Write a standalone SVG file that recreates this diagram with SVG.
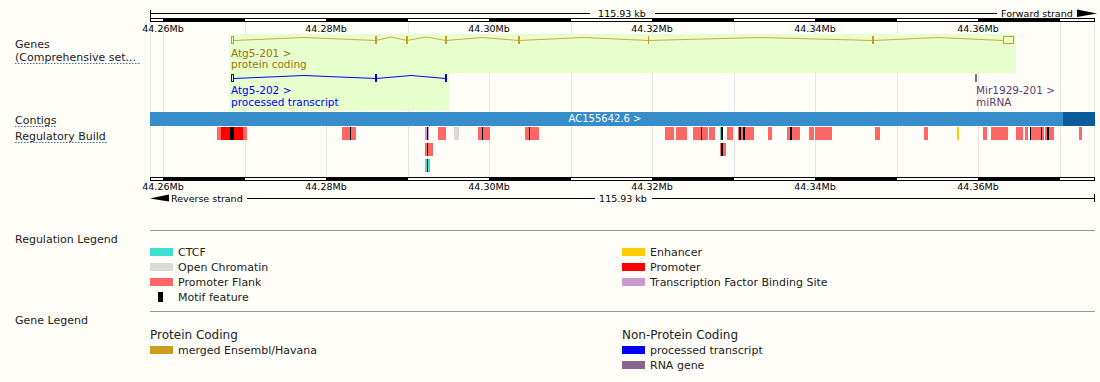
<svg xmlns="http://www.w3.org/2000/svg" width="1100" height="382" viewBox="0 0 1100 382">
<defs>
<style>
text{font-family:"DejaVu Sans","Liberation Sans",sans-serif;fill:#222}
.rl{font-size:9.5px;fill:#000}
.tl{font-size:11px}
.ul{stroke:#3b6ea5;stroke-width:1;stroke-dasharray:1.5 1.5}
.grid{stroke:#e2e2e2;stroke-width:1}
.blk{fill:#000}
.pf{fill:#ff6666}
.pr{fill:#ff0000}
.ct{fill:#40e0d0}
.oc{fill:#d9d9d9}
.tf{fill:#cc99cc}
.en{fill:#ffcc00}
.mo{fill:#000}
.lg{font-size:11px}
.lh{font-size:11px}
.sh{font-size:12px}
.sep{stroke:#999;stroke-width:1}
.gold{stroke:#cd9b1d}
.glab{font-size:10.5px;fill:#a3700a}
.blab{font-size:10.5px;fill:#0000ff}
.plab{font-size:10.5px;fill:#5e3b6e}
</style>
</defs>
<rect x="0" y="0" width="1100" height="382" fill="#fffdf8"/>

<g id="gridlines">
<line class="grid" x1="150.5" y1="22" x2="150.5" y2="177"/>
<line class="grid" x1="163.5" y1="22" x2="163.5" y2="177"/>
<line class="grid" x1="245.5" y1="22" x2="245.5" y2="177"/>
<line class="grid" x1="326.5" y1="22" x2="326.5" y2="177"/>
<line class="grid" x1="408.5" y1="22" x2="408.5" y2="177"/>
<line class="grid" x1="489.5" y1="22" x2="489.5" y2="177"/>
<line class="grid" x1="571.5" y1="22" x2="571.5" y2="177"/>
<line class="grid" x1="652.5" y1="22" x2="652.5" y2="177"/>
<line class="grid" x1="734.5" y1="22" x2="734.5" y2="177"/>
<line class="grid" x1="815.5" y1="22" x2="815.5" y2="177"/>
<line class="grid" x1="897.5" y1="22" x2="897.5" y2="177"/>
<line class="grid" x1="978.5" y1="22" x2="978.5" y2="177"/>
<line class="grid" x1="1060.5" y1="22" x2="1060.5" y2="177"/>
<line class="grid" x1="1094.5" y1="22" x2="1094.5" y2="177"/>
</g>

<g id="ruler-top">
<line x1="150" y1="13.5" x2="590" y2="13.5" stroke="#000"/>
<line x1="655" y1="13.5" x2="997" y2="13.5" stroke="#000"/>
<line x1="150.5" y1="10" x2="150.5" y2="18" stroke="#000"/>
<text class="rl" x="622" y="17" text-anchor="middle">115.93 kb</text>
<text class="rl" x="1001" y="17">Forward strand</text>
<polygon points="1077,9.5 1097,13.5 1077,17" fill="#000"/>
<rect x="150.5" y="18.5" width="944" height="3" fill="#fff" stroke="#000"/>
<rect class="blk" x="163" y="18" width="82" height="4"/>
<rect class="blk" x="326" y="18" width="82" height="4"/>
<rect class="blk" x="489" y="18" width="82" height="4"/>
<rect class="blk" x="652" y="18" width="82" height="4"/>
<rect class="blk" x="815" y="18" width="82" height="4"/>
<rect class="blk" x="978" y="18" width="82" height="4"/>
<text class="rl" x="163" y="32" text-anchor="middle">44.26Mb</text>
<text class="rl" x="326" y="32" text-anchor="middle">44.28Mb</text>
<text class="rl" x="489" y="32" text-anchor="middle">44.30Mb</text>
<text class="rl" x="652" y="32" text-anchor="middle">44.32Mb</text>
<text class="rl" x="815" y="32" text-anchor="middle">44.34Mb</text>
<text class="rl" x="978" y="32" text-anchor="middle">44.36Mb</text>
</g>

<g id="track-labels">
<text class="tl" x="15" y="48">Genes</text>
<text class="tl" x="15" y="61">(Comprehensive set...</text>
<line class="ul" x1="15" y1="63.5" x2="141" y2="63.5"/>
<text class="tl" x="15" y="124">Contigs</text>
<line class="ul" x1="15" y1="126.5" x2="57" y2="126.5"/>
<text class="tl" x="15" y="140">Regulatory Build</text>
<line class="ul" x1="15" y1="142.5" x2="108" y2="142.5"/>
</g>

<g id="gene-atg5-201">
<rect x="229" y="34" width="787" height="39" fill="#e6ffcc"/>
<polyline fill="none" stroke="#d6a638" stroke-width="1" points="234,40.5 304,37.5 376,40.5 391,37 407,40.5 426,37 446,40.5 482,37.5 519,40.5 583,37.5 648,40.5 760,37.5 873,40.5 938,37.5 1003,40.5"/>
<rect x="231.5" y="36.5" width="2" height="7" fill="none" stroke="#cd9b1d"/>
<rect x="375" y="36" width="2" height="8" fill="#cd9b1d"/>
<rect x="406" y="36" width="2" height="8" fill="#cd9b1d"/>
<rect x="445" y="36" width="2" height="8" fill="#cd9b1d"/>
<rect x="518" y="36" width="2" height="8" fill="#cd9b1d"/>
<rect x="648" y="36" width="1" height="8" fill="#cd9b1d"/>
<rect x="872" y="36" width="2" height="8" fill="#cd9b1d"/>
<rect x="1003.5" y="36.5" width="10" height="7" fill="none" stroke="#cd9b1d"/>
<text class="glab" x="231" y="57">Atg5-201 &gt;</text>
<text class="glab" x="231" y="68">protein coding</text>
</g>

<g id="gene-atg5-202">
<rect x="229" y="73" width="220" height="38" fill="#e6ffcc"/>
<polyline fill="none" stroke="#0000ff" stroke-width="1" points="234,78.5 304,75.5 376,78.5 411,75.5 446,78.5"/>
<rect x="231.5" y="74.5" width="2" height="7" fill="none" stroke="#0000ff"/>
<rect x="375" y="74" width="2" height="8" fill="#0000ff"/>
<rect x="445" y="74" width="2" height="8" fill="#0000ff"/>
<text class="blab" x="231" y="94">Atg5-202 &gt;</text>
<text class="blab" x="231" y="106">processed transcript</text>
</g>

<g id="gene-mir1929-201">
<rect x="975" y="74" width="2" height="8" fill="#8b668b"/>
<text class="plab" x="976" y="94">Mir1929-201 &gt;</text>
<text class="plab" x="976" y="106">miRNA</text>
</g>

<g id="contig">
<rect x="150" y="112" width="913" height="14" fill="#368dc9"/>
<rect x="1063" y="112" width="32" height="14" fill="#0a5a9c"/>
<text x="605" y="122" text-anchor="middle" font-size="10" style="fill:#fff">AC155642.6 &gt;</text>
</g>

<g id="regulatory-build">
<rect class="pf" x="217" y="127" width="30" height="13"/>
<rect class="pr" x="221" y="127" width="22" height="13"/>
<rect class="mo" x="230" y="127" width="4" height="13"/>
<rect class="pf" x="342" y="127" width="14" height="13"/>
<rect class="mo" x="350" y="127" width="1" height="13"/>
<rect class="tf" x="425" y="127" width="4" height="13"/>
<rect class="mo" x="427" y="127" width="1" height="13"/>
<rect class="pf" x="438" y="127" width="8" height="13"/>
<rect class="oc" x="454" y="127" width="5" height="13"/>
<rect class="pf" x="478" y="127" width="12" height="13"/>
<rect class="mo" x="482" y="127" width="1" height="13"/>
<rect class="pf" x="525" y="127" width="14" height="13"/>
<rect class="mo" x="529" y="127" width="1" height="13"/>
<rect class="pf" x="665" y="127" width="9" height="13"/>
<rect class="pf" x="676" y="127" width="11" height="13"/>
<rect class="pf" x="693" y="127" width="15" height="13"/>
<rect class="mo" x="701" y="127" width="1" height="13"/>
<rect class="pf" x="709" y="127" width="6" height="13"/>
<rect class="ct" x="720" y="127" width="1" height="13"/>
<rect class="mo" x="721" y="127" width="2" height="13"/>
<rect class="pf" x="727" y="127" width="6" height="13"/>
<rect class="pf" x="738" y="127" width="16" height="13"/>
<rect class="mo" x="739" y="127" width="2" height="13"/>
<rect class="mo" x="743" y="127" width="2" height="13"/>
<rect class="pf" x="768" y="127" width="4" height="13"/>
<rect class="pf" x="787" y="127" width="13" height="13"/>
<rect class="mo" x="790" y="127" width="2" height="13"/>
<rect class="pf" x="809" y="127" width="5" height="13"/>
<rect class="pf" x="815" y="127" width="17" height="13"/>
<rect class="pf" x="875" y="127" width="5" height="13"/>
<rect class="pf" x="924" y="127" width="4" height="13"/>
<rect class="en" x="957" y="127" width="2" height="13"/>
<rect class="pf" x="983" y="127" width="4" height="13"/>
<rect class="pf" x="991" y="127" width="17" height="13"/>
<rect class="pf" x="1016" y="127" width="7" height="13"/>
<rect class="pf" x="1025" y="127" width="3" height="13"/>
<rect class="pf" x="1030" y="127" width="14" height="13"/>
<rect class="mo" x="1030" y="127" width="1" height="13"/>
<rect class="mo" x="1041" y="127" width="1" height="13"/>
<rect class="pf" x="1045" y="127" width="9" height="13"/>
<rect class="mo" x="1047" y="127" width="2" height="13"/>
<rect class="pf" x="1079" y="127" width="3" height="13"/>
<rect class="pf" x="425" y="143" width="8" height="13"/>
<rect class="mo" x="427" y="143" width="1" height="13"/>
<rect class="pf" x="720" y="143" width="6" height="13"/>
<rect class="mo" x="721" y="143" width="2" height="13"/>
<rect class="ct" x="425" y="159" width="5" height="13"/>
<rect class="mo" x="427" y="159" width="1" height="13"/>
</g>

<g id="ruler-bottom">
<rect x="150.5" y="177.5" width="944" height="3" fill="#fff" stroke="#000"/>
<rect class="blk" x="163" y="177" width="82" height="4"/>
<rect class="blk" x="326" y="177" width="82" height="4"/>
<rect class="blk" x="489" y="177" width="82" height="4"/>
<rect class="blk" x="652" y="177" width="82" height="4"/>
<rect class="blk" x="815" y="177" width="82" height="4"/>
<rect class="blk" x="978" y="177" width="82" height="4"/>
<text class="rl" x="163" y="190" text-anchor="middle">44.26Mb</text>
<text class="rl" x="326" y="190" text-anchor="middle">44.28Mb</text>
<text class="rl" x="489" y="190" text-anchor="middle">44.30Mb</text>
<text class="rl" x="652" y="190" text-anchor="middle">44.32Mb</text>
<text class="rl" x="815" y="190" text-anchor="middle">44.34Mb</text>
<text class="rl" x="978" y="190" text-anchor="middle">44.36Mb</text>
<polygon points="150,198.5 169,194.5 169,201.5" fill="#000"/>
<text class="rl" x="171" y="202">Reverse strand</text>
<line x1="247" y1="198.5" x2="595" y2="198.5" stroke="#000"/>
<text class="rl" x="623" y="202" text-anchor="middle">115.93 kb</text>
<line x1="652" y1="198.5" x2="1095" y2="198.5" stroke="#000"/>
<line x1="1094.5" y1="194" x2="1094.5" y2="202" stroke="#000"/>
</g>

<g id="regulation-legend">
<line class="sep" x1="150" y1="230.5" x2="1095" y2="230.5"/>
<text class="lh" x="15" y="243">Regulation Legend</text>
<rect class="ct" x="150" y="248" width="23" height="8"/>
<text class="lg" x="178" y="256">CTCF</text>
<rect class="oc" x="150" y="263" width="23" height="8"/>
<text class="lg" x="178" y="271">Open Chromatin</text>
<rect class="pf" x="150" y="278" width="23" height="8"/>
<text class="lg" x="178" y="286">Promoter Flank</text>
<rect class="mo" x="158" y="292" width="5" height="10"/>
<text class="lg" x="178" y="301">Motif feature</text>
<rect class="en" x="622" y="248" width="23" height="8"/>
<text class="lg" x="650" y="256">Enhancer</text>
<rect class="pr" x="622" y="263" width="23" height="8"/>
<text class="lg" x="650" y="271">Promoter</text>
<rect class="tf" x="622" y="278" width="23" height="8"/>
<text class="lg" x="650" y="286">Transcription Factor Binding Site</text>
</g>

<g id="gene-legend">
<line class="sep" x1="150" y1="311.5" x2="1095" y2="311.5"/>
<text class="lh" x="15" y="324">Gene Legend</text>
<text class="sh" x="150" y="339">Protein Coding</text>
<rect x="150" y="346" width="23" height="8" fill="#cd9b1d"/>
<text class="lg" x="178" y="354">merged Ensembl/Havana</text>
<text class="sh" x="622" y="339">Non-Protein Coding</text>
<rect x="622" y="346" width="23" height="8" fill="#0000ff"/>
<text class="lg" x="650" y="354">processed transcript</text>
<rect x="622" y="361" width="23" height="8" fill="#8b668b"/>
<text class="lg" x="650" y="369">RNA gene</text>
</g>
</svg>
